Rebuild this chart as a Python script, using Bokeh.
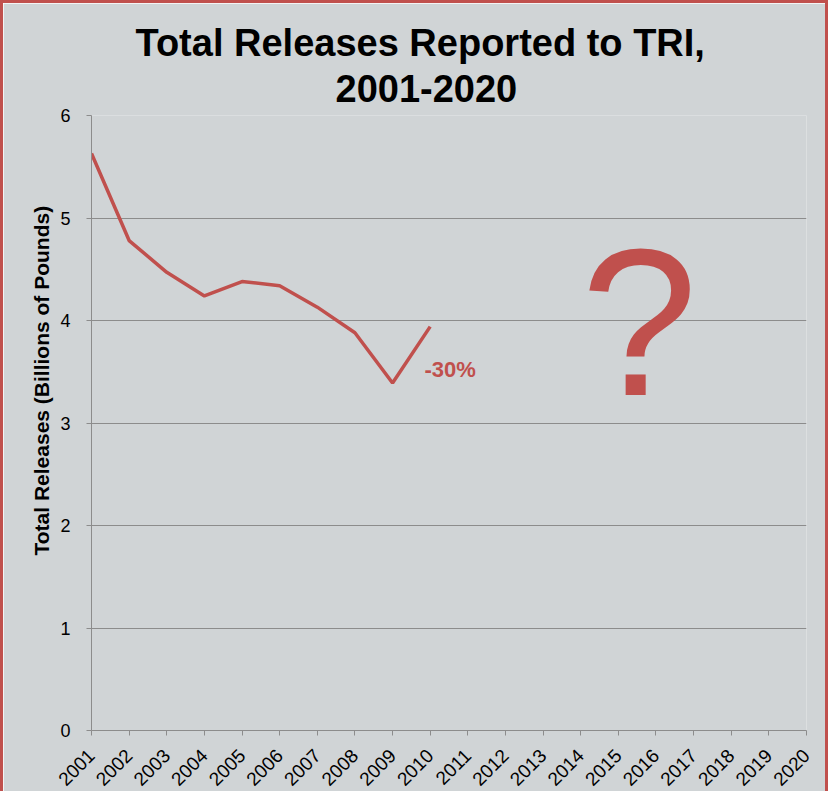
import math
from bokeh.plotting import figure
from bokeh.models import FixedTicker, Label, Title
from bokeh.embed import file_html
from bokeh.resources import INLINE

# ---- data ----
years = list(range(2001, 2021))
year_labels = [str(y) for y in years]
data_years = [2001, 2002, 2003, 2004, 2005, 2006, 2007, 2008, 2009, 2010]
releases = [5.63, 4.78, 4.47, 4.24, 4.38, 4.34, 4.13, 3.88, 3.39, 3.94]
y_ticks = [0, 1, 2, 3, 4, 5, 6]
title_lines = ["Total Releases Reported to TRI,", "2001-2020"]
y_label = "Total Releases (Billions of Pounds)"
change_label = "-30%"

RED = "#c0504d"
BG = "#d0d4d6"
GRID = "#8c8c8c"
FONT = "Liberation Sans"

p = figure(width=828, height=791, x_range=(2001, 2020), y_range=(0, 6),
           output_backend="svg", toolbar_location=None,
           min_border_left=88, min_border_right=25,
           min_border_top=112, min_border_bottom=63)
p.title = None
p.background_fill_color = BG
p.border_fill_color = BG
p.outline_line_color = None
p.styles = {"border-top": "3px solid " + RED, "border-left": "3px solid " + RED,
            "border-right": "3px solid " + RED}

p.xgrid.grid_line_color = None
p.ygrid.grid_line_color = GRID
p.ygrid.grid_line_width = 1
p.ygrid.ticker = FixedTicker(ticks=y_ticks)

p.xaxis.ticker = FixedTicker(ticks=years)
p.xaxis.major_label_overrides = {y: s for y, s in zip(years, year_labels)}
p.xaxis.major_label_orientation = math.pi / 4
p.xaxis.major_label_text_font = FONT
p.xaxis.major_label_text_font_size = "19px"
p.xaxis.major_label_text_color = "black"
p.xaxis.major_label_standoff = 17
p.xaxis.major_tick_in = 0
p.xaxis.major_tick_out = 5
p.xaxis.minor_tick_line_color = None
p.xaxis.axis_line_color = GRID
p.xaxis.major_tick_line_color = GRID

p.yaxis.ticker = FixedTicker(ticks=y_ticks)
p.yaxis.major_label_text_font = FONT
p.yaxis.major_label_text_font_size = "18px"
p.yaxis.major_label_text_color = "black"
p.yaxis.major_label_standoff = 16
p.yaxis.major_tick_in = 0
p.yaxis.major_tick_out = 5
p.yaxis.minor_tick_line_color = None
p.yaxis.axis_line_color = GRID
p.yaxis.major_tick_line_color = GRID

p.line(data_years, releases, line_color=RED, line_width=3.5)

# y-axis title, placed off-centre like the reference
p.add_layout(Title(text=y_label, align="left", text_font=FONT,
                   text_font_size="21px", text_font_style="bold",
                   text_color="black", standoff=10, offset=175), "left")

# title: two lines stacked above the frame (nearest first), centred on the whole box
for txt, standoff, off, va in [(title_lines[1], 23, 244, "top"),
                               (title_lines[0], 0, 44, "bottom")]:
    p.add_layout(Title(text=txt, align="left", offset=off, vertical_align=va,
                       text_font=FONT, text_font_size="38px", text_font_style="bold",
                       text_color="black", standoff=standoff), "above")

p.add_layout(Label(x=2009.85, y=3.52, text=change_label, text_align="left",
                   text_baseline="middle", text_font=FONT, text_font_size="22px",
                   text_font_style="bold", text_color=RED))
p.add_layout(Label(x=2015.55, y=3.98, text="?", text_align="center",
                   text_baseline="alphabetic", text_font=FONT, text_font_size="210px",
                   text_color=RED))

open("out.html", "w").write(file_html(p, INLINE))
